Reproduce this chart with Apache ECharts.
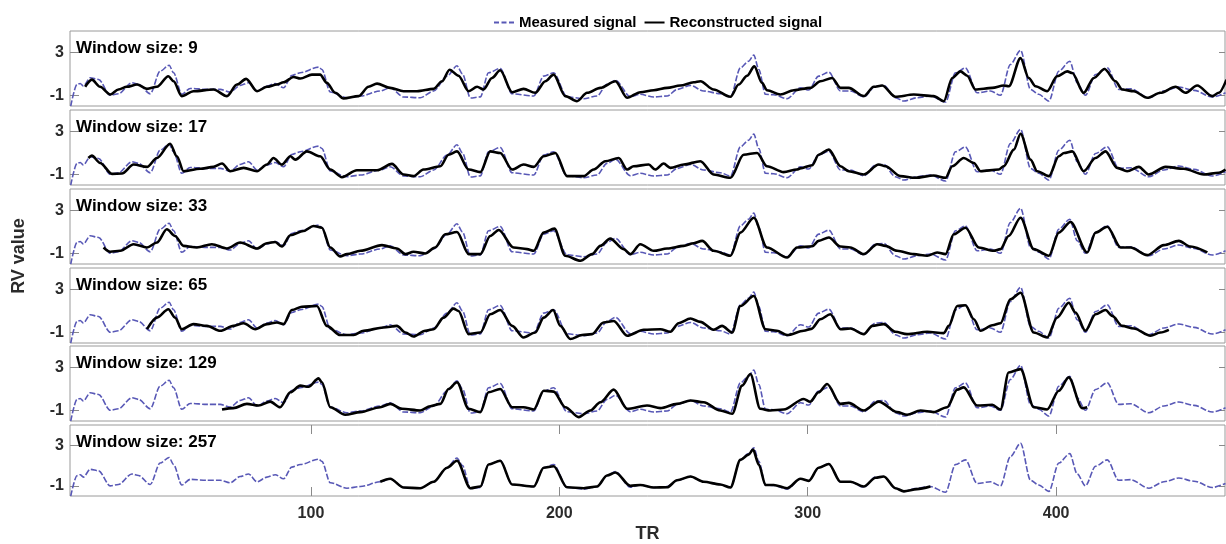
<!DOCTYPE html>
<html>
<head>
<meta charset="utf-8">
<title>RV signal reconstruction</title>
<script src="https://cdn.jsdelivr.net/npm/echarts@6/dist/echarts.min.js"></script>
<style>
  html, body { margin: 0; padding: 0; background: #fff; }
  #chart { width: 1226px; height: 544px; }
</style>
</head>
<body>
<div id="chart"></div>
<script>
// Window sizes of the sliding reconstruction, one panel each
const windowSizes = [9, 17, 33, 65, 129, 257];
const trTicks = [100, 200, 300, 400];
const rvTicks = [-1, 3];

// Measured RV signal, [TR, value]
const measured = [
  [3.3,-2.0],[5.8,0.0],[7.1,0.1],[8.4,-0.14],[11.1,0.63],[14.5,0.48],[19.2,-1.0],[22.5,-0.86],[27.9,0.17],[30.6,0.02],
  [35.3,-0.86],[39.3,1.25],[42.9,1.8],[44.7,1.1],[48.0,-0.91],[51.4,-0.36],[58.1,-0.45],[63.5,-0.45],[67.5,-0.7],[71.5,-0.08],
  [74.9,0.17],[78.3,-0.6],[82.3,-0.14],[85.6,0.1],[89.0,-0.3],[92.3,0.85],[95.7,1.1],[103.1,1.63],[104.4,1.41],[107.8,-0.7],
  [114.5,-1.23],[119.9,-1.07],[127.9,-0.6],[131.9,-0.3],[137.3,-1.16],[144,-1.23],[149.4,-0.6],[154.8,0.79],[158.8,1.75],[161,1.0],
  [164.2,-1.25],[168.2,-1.15],[171.5,1.1],[176.2,1.5],[181,-0.86],[189.7,-1.07],[193.7,0.79],[197.7,1.1],[203.1,-1.14],[209.8,-1.32],
  [215.2,-1.07],[219.2,0.02],[222.6,0.4],[228.6,-1.14],[232.6,-0.91],[238,-1.16],[243.4,-1.07],[247.4,-0.45],[252.8,-0.08],[258.1,-0.6],
  [264.8,-0.86],[268.9,-1.16],[272.9,1.56],[276.2,2.18],[278.3,2.75],[280.3,1.41],[283,-0.91],[286.3,-0.95],[291.7,-1.32],[297.1,-0.3],
  [300.4,-0.51],[304.4,0.79],[308.5,1.16],[313.2,-0.6],[317.2,-0.6],[322.6,-1.14],[327.3,-0.14],[330.6,-0.08],[335.3,-1.23],[338.7,-1.54],
  [344,-1.23],[349.4,-1.07],[355.5,-1.63],[359.5,1.1],[363.5,1.56],[368.2,-0.77],[373.6,-0.6],[377.6,-1.0],[381.6,1.88],[385.7,3.2],
  [389.7,-0.45],[393,-0.91],[397.1,-1.54],[401.1,1.25],[405.5,2.18],[408.5,0.17],[411.8,-1.0],[415.9,0.94],[420.6,1.56],[425.2,-0.45],
  [430,-0.39],[437.3,-1.23],[443.4,-0.6],[449.4,-0.23],[455.5,-0.54],[462.9,-1.16],[468.2,-0.77]
];

// Reconstructed signal for each window size, [TR, value]
const recon9 = [
  [9.1,-0.21],[11.8,0.46],[15.1,-0.21],[19.2,-0.93],[22.5,-0.46],[25.9,-0.21],[30,0.0],[34,-0.4],[38,-0.21],[42.6,0.77],
  [44.7,0.31],[48,-1.08],[52.7,-0.62],[60.8,-0.46],[66.2,-1.08],[70.2,0],[73.9,0.53],[78.3,-0.62],[82.3,-0.21],[86.3,0],
  [89,0.21],[93,0.71],[95.7,0.56],[100.4,0.93],[103.7,0.93],[106.4,0.16],[109.8,-0.77],[113.1,-1.3],[119.2,-1.08],[123.2,-0.21],
  [126.6,0.09],[131.9,-0.31],[137.3,-0.62],[142.7,-0.62],[149.4,-0.4],[152.8,0.31],[155.8,1.39],[159.4,0.83],[163.5,-0.62],[166.9,-0.21],
  [169.5,-0.46],[172.9,0.62],[176.2,1.33],[181,-0.71],[185.6,-0.4],[190.3,-0.77],[194.4,0.31],[197.7,0.93],[202.4,-1.08],[207.1,-1.55],
  [211.2,-0.77],[216.5,-0.31],[222.6,0.31],[227.3,-1.23],[232.6,-0.71],[238,-0.53],[243.4,-0.31],[248.7,-0.09],[254.1,0.21],[256.8,0.31],
  [262.1,-0.46],[268.9,-1.14],[272.2,0],[275.6,0.83],[278.5,1.7],[281.6,0.16],[283.6,-0.53],[289,-0.93],[294.4,-0.53],[301.1,-0.31],
  [305.1,0.31],[309.8,0.62],[313.2,-0.31],[316.5,-0.31],[322.6,-1.08],[326.6,-0.21],[330,-0.09],[335.3,-1.14],[342.7,-0.93],[350.7,-1.08],
  [354.8,-1.55],[358.2,0.62],[361.5,1.23],[364.2,0.83],[367.5,-0.46],[374.3,-0.31],[378.9,-0.09],[381,-0.15],[385.7,2.47],[389,0.62],
  [391.7,-0.15],[396.4,-0.62],[400.4,0.77],[404.5,1.23],[406.5,1.08],[411.1,-0.77],[415.2,0.62],[419.5,1.45],[423.9,0.31],[426.6,-0.46],
  [431.3,-0.62],[436.7,-1.23],[442,-0.77],[448.1,-0.21],[452.1,-0.77],[456.8,-0.09],[462.9,-1.08],[465.5,-0.77],[468.6,0.46]
];
const recon17 = [
  [10.4,0.52],[11.8,0.74],[15.1,0.06],[19.9,-0.96],[23.9,-0.93],[28.6,-0.09],[34,-0.31],[38,0.52],[43.3,1.85],[46,0.68],
  [48.7,-0.71],[55.4,-0.49],[60.8,-0.31],[64.2,0],[67.5,-0.71],[72.9,-0.4],[78.3,-0.71],[82.3,-0.09],[84.9,0.52],[88.3,-0.09],
  [91.7,0.68],[93.7,0.37],[98.4,1.14],[103.7,0.68],[107.8,-0.56],[112.5,-1.27],[118.5,-0.62],[126.6,-0.62],[132.6,-0.03],[137.3,-1.02],
  [141.3,-1.17],[145.3,-0.56],[152.1,-0.25],[155.4,0.83],[158.8,1.14],[163.5,-0.56],[168.2,-0.8],[172.2,1.14],[176.2,0.99],[181,-0.56],
  [185.6,-0.09],[189.7,-0.31],[193.7,0.68],[198.4,0.99],[203.1,-1.17],[209.8,-1.17],[213.8,-0.56],[218.5,0.22],[223.9,0.52],[227.3,-0.56],
  [229.9,-0.25],[236,-0.09],[238.6,-0.56],[242,0],[244.7,-0.4],[250.1,-0.09],[256.8,0.22],[262.1,-1.02],[268.9,-1.33],[274.2,0.83],
  [279.6,0.99],[283.6,-0.25],[290.3,-0.8],[295.7,-0.56],[297,-0.45],[301.8,-0.15],[304.4,0.83],[308.5,1.3],[313.2,-0.25],[316.5,-0.71],
  [322.6,-1.02],[328.6,-0.09],[331.3,-0.25],[337.3,-1.17],[343.4,-1.33],[350.7,-1.11],[355.5,-1.33],[358.2,-0.25],[362.8,0.52],[366.9,0.06],
  [369.6,-0.71],[376.9,-0.56],[378.9,-0.25],[383,1.3],[385.7,2.78],[389.7,0.37],[392.4,-0.71],[397.1,-1.17],[401.1,0.68],[403.2,0.99],
  [406.5,1.14],[411.1,-0.71],[415.9,0.52],[419.9,1.14],[424.6,-0.4],[428.6,-0.71],[433.3,-0.31],[437.3,-1.02],[444.1,-0.31],[451.4,-0.49],
  [459.5,-1.02],[465.5,-0.86],[468.2,-0.56]
];
const recon33 = [
  [16.5,-0.46],[19.2,-0.86],[23.2,-0.77],[28.6,-0.15],[34,-0.46],[38,0],[42,1.24],[45.3,0.62],[48.7,-0.31],[54.1,-0.46],
  [60.1,-0.15],[66.2,-0.55],[71.5,0],[78.3,-0.55],[82.3,-0.06],[85.6,0.06],[88.3,-0.37],[91.7,0.68],[97,1.08],[101,1.55],
  [104.4,1.39],[107.8,-0.46],[111.8,-1.29],[114.5,-1.08],[119.9,-0.77],[128.6,-0.24],[134.6,-0.55],[138,-1.08],[141.3,-0.86],[146,-1.02],
  [150,-0.46],[154.1,0.77],[158.8,0.99],[163.5,-1.08],[168.2,-1.08],[172.2,0.62],[175.6,1.18],[181.6,-0.46],[187,-0.61],[189.7,-0.77],
  [193.7,0.93],[198,1.3],[202.4,-1.23],[208.5,-1.69],[213.2,-1.08],[216.5,-0.31],[220.5,0.37],[225.9,-0.61],[228.6,-1.08],[232.6,-0.15],
  [238,-0.77],[243.4,-0.55],[250.1,-0.31],[254.1,-0.06],[257.5,0.16],[262.1,-0.77],[268.9,-1.23],[272.9,0.93],[278.3,2.32],[283.6,-0.46],
  [291.7,-1.39],[295.7,-0.46],[301.8,-0.35],[304.4,0.16],[308.5,0.47],[313.2,-0.37],[317.2,-0.46],[322.6,-1.08],[328,-0.15],[331.3,-0.31],
  [336,-0.77],[342.7,-1.08],[348.1,-1.23],[352.1,-0.92],[355.5,-1.08],[358.8,0.77],[363.5,1.39],[368.9,-0.46],[374.9,-0.77],[377.6,-0.61],
  [380.9,0.62],[385.7,2.32],[391,-0.61],[397.1,-1.23],[401.1,0.93],[405.8,1.92],[412.5,-0.92],[415.9,0.93],[420.6,1.48],[426,-0.46],
  [430,-0.46],[436.7,-1.17],[443.4,-0.24],[449.4,0.16],[454.1,-0.37],[460.9,-0.92]
];
const recon65 = [
  [34,-0.71],[38,0.37],[42.6,1.15],[45.3,0.37],[48,-0.71],[52.7,-0.24],[58.1,-0.4],[63.5,-0.86],[68.8,-0.4],[72.9,-0.15],
  [77.6,-0.71],[82.3,-0.24],[86.3,-0.09],[89,-0.24],[92.3,1.08],[96.4,1.39],[102.4,1.45],[106.4,-0.4],[111.8,-1.26],[117.2,-1.26],
  [121.2,-0.86],[129.2,-0.55],[134.6,-0.4],[138,-1.02],[141.3,-1.39],[146,-0.86],[149.4,-0.71],[153.4,0.37],[157.4,1.21],[159.4,0.99],
  [163.5,-1.17],[168.2,-1.02],[172.2,0.68],[176.2,1.08],[181,-0.4],[185.6,-1.48],[190.3,-1.02],[193.7,0.37],[197.5,1.08],[200.4,-0.4],
  [204.4,-1.63],[209.1,-1.26],[213.2,-1.17],[217.8,-0.09],[221.9,0.06],[227.3,-1.32],[234,-0.77],[240.7,-0.71],[244.7,-0.95],[248,-0.15],
  [252.8,0.28],[256.8,-0.03],[262.1,-0.77],[265.5,-0.4],[269.6,-1.02],[272.9,1.45],[278.3,2.38],[283,-0.71],[287.6,-0.86],[291.7,-1.26],
  [298.4,-0.86],[301.5,-0.68],[305.1,0.22],[309.1,0.68],[313.2,-0.71],[317.2,-0.65],[322.6,-1.17],[326,-0.4],[330.6,-0.24],[335.3,-0.95],
  [340,-1.17],[348.1,-0.95],[354.8,-1.08],[356.8,-0.4],[360.2,1.45],[363.5,1.52],[366.9,0.22],[369.6,-0.86],[374.3,-0.34],[377.6,-0.15],
  [381.6,2.07],[385.7,2.69],[391,-1.02],[396.4,-1.48],[400.4,0.37],[405.1,1.76],[407.8,0.84],[411.8,-0.86],[415.9,0.68],[419.9,1.08],
  [422.6,0.53],[426.6,-0.4],[431.3,-0.65],[438,-1.32],[442,-1.02],[445.4,-0.77]
];
const recon129 = [
  [64.2,-0.93],[68.8,-0.8],[74.2,-0.4],[78.9,-0.56],[83.6,-0.19],[87.6,-0.71],[91.7,0.68],[95.7,1.3],[99,1.2],[103.1,1.98],
  [104.4,1.61],[107.8,-0.71],[113.8,-1.42],[119.9,-1.17],[127.9,-0.71],[131.9,-0.4],[136.7,-0.86],[144,-1.02],[148,-0.62],[152.1,-0.4],
  [155.4,0.99],[158.8,1.61],[163.5,-0.86],[168.2,-1.17],[171.5,0.68],[176.2,0.99],[181,-0.71],[185.6,-0.71],[189.7,-0.93],[193.7,0.83],
  [197.7,0.74],[202.4,-0.71],[207.8,-1.64],[212.5,-1.02],[216.5,-0.25],[221.9,0.93],[227.3,-0.86],[235.3,-0.56],[240.7,-0.8],[247.4,-0.4],
  [252.8,-0.09],[258.1,-0.25],[264.8,-1.02],[269.6,-1.33],[273.6,1.3],[276.9,2.38],[280.9,-0.86],[284.9,-1.02],[290.3,-0.93],[298.4,0.06],
  [301,-0.2],[304.4,0.68],[307.8,1.45],[313.2,-0.4],[316.5,-0.31],[322.6,-1.02],[328.6,-0.19],[336,-1.17],[340,-1.42],[345.4,-1.02],
  [350.7,-1.17],[356.1,-0.71],[360.2,0.93],[362.8,1.14],[368.2,-0.56],[374.3,-0.49],[377.6,-0.93],[380.9,2.53],[385.7,2.84],[391,-0.71],
  [396.4,-0.93],[401.1,0.83],[405.1,2.07],[410.5,-0.8],[412.5,-0.71]
];
const recon257 = [
  [127.9,-0.6],[131.9,-0.3],[137.3,-1.16],[144,-1.23],[149.4,-0.6],[154.8,0.79],[158.8,1.47],[164.2,-1.23],[168.2,-1.07],[171.5,1.1],
  [176.2,1.47],[181,-0.86],[189.7,-1.07],[193.7,0.79],[197.7,0.94],[203.1,-1.14],[209.8,-1.23],[215.2,-1.07],[219.2,0.02],[222.6,0.32],
  [228.6,-1.0],[232.6,-0.91],[238,-1.16],[243.4,-1.14],[247.4,-0.45],[252.8,-0.08],[258.1,-0.6],[264.8,-0.86],[268.9,-1.16],[272.9,1.56],
  [276.2,2.08],[278,2.57],[280.3,1.1],[283,-0.91],[286.3,-0.91],[291.7,-1.23],[297.1,-0.3],[300.4,-0.51],[304.4,0.79],[308.5,1.16],
  [313.2,-0.6],[317.2,-0.6],[322.6,-1.07],[327.3,-0.2],[330.6,-0.08],[335.3,-1.23],[338.7,-1.54],[344,-1.32],[349.4,-1.07]
];
const reconstructed = [recon9, recon17, recon33, recon65, recon129, recon257];

const FONT = 'Arial, "Liberation Sans", Helvetica, sans-serif';
const BLUE = '#5858b6';
const TICK = '#8a8a8a';
const panelTops = [31, 110, 189, 268, 346, 425];
const panelHeight = 75;
const last = windowSizes.length - 1;

const grids = [], xAxes = [], yAxes = [], series = [], graphics = [];

const noLine = { show: false, onZero: false };

windowSizes.forEach((w, i) => {
  grids.push({
    left: 70, right: 1, top: panelTops[i], height: panelHeight,
    show: true, borderColor: '#9a9a9a', borderWidth: 1, backgroundColor: '#fff'
  });
  xAxes.push({
    type: 'value', gridIndex: i, min: 3, max: 468, position: 'bottom',
    axisLine: noLine, splitLine: { show: false },
    axisTick: { show: i === last, inside: true, length: 9, customValues: trTicks, lineStyle: { color: TICK } },
    axisLabel: {
      show: i === last, customValues: trTicks, margin: 10,
      fontFamily: FONT, fontWeight: 'bold', fontSize: 16, color: '#2b2b2b'
    },
    name: i === last ? 'TR' : '', nameLocation: 'middle', nameGap: 29,
    nameTextStyle: { fontFamily: FONT, fontWeight: 'bold', fontSize: 18, color: '#2b2b2b' }
  });
  yAxes.push({
    type: 'value', gridIndex: i, min: -2, max: 5, position: 'left',
    axisLine: noLine, splitLine: { show: false },
    axisTick: { show: true, inside: true, length: 9, customValues: rvTicks, lineStyle: { color: TICK } },
    axisLabel: {
      customValues: rvTicks, margin: 6,
      fontFamily: FONT, fontWeight: 'bold', fontSize: 16, color: '#2b2b2b'
    }
  });
  series.push({
    type: 'line', name: 'Measured signal', xAxisIndex: i, yAxisIndex: i,
    data: measured, symbol: 'none', showSymbol: false, silent: true, z: 2,
    smooth: 0.3, smoothMonotone: 'x',
    lineStyle: { color: BLUE, width: 1.6, type: [6, 2] }, itemStyle: { color: BLUE }
  });
  series.push({
    type: 'line', name: 'Reconstructed signal', xAxisIndex: i, yAxisIndex: i,
    data: reconstructed[i], symbol: 'none', showSymbol: false, silent: true, z: 3,
    smooth: 0.3, smoothMonotone: 'x',
    lineStyle: { color: '#000', width: 2.6 }, itemStyle: { color: '#000' }
  });
  graphics.push({
    type: 'text', left: 76, top: panelTops[i] + 9, z: 10,
    style: { text: 'Window size: ' + w, font: 'bold 17px ' + FONT, fill: '#000' }
  });
});

// mirrored ticks on the right edge of each panel
windowSizes.forEach((w, i) => {
  yAxes.push({
    type: 'value', gridIndex: i, min: -2, max: 5, position: 'right',
    axisLine: noLine, splitLine: { show: false }, axisLabel: { show: false },
    axisTick: { show: true, inside: true, length: 6, customValues: rvTicks, lineStyle: { color: TICK } }
  });
});
// mirrored TR ticks on top of the bottom panel
xAxes.push({
  type: 'value', gridIndex: last, min: 3, max: 468, position: 'top',
  axisLine: noLine, splitLine: { show: false }, axisLabel: { show: false },
  axisTick: { show: true, inside: true, length: 9, customValues: trTicks, lineStyle: { color: TICK } }
});

graphics.push({
  type: 'text', x: 19, y: 256, rotation: Math.PI / 2, z: 10,
  style: { text: 'RV value', font: 'bold 18px ' + FONT, fill: '#2b2b2b', align: 'center', verticalAlign: 'middle' }
});

const chart = echarts.init(document.getElementById('chart'), null, { renderer: 'canvas' });
chart.setOption({
  animation: false,
  backgroundColor: '#fff',
  legend: {
    left: 489, top: 10, itemWidth: 20, itemHeight: 3, itemGap: 8,
    data: [
      { name: 'Measured signal', icon: 'path://M0,0h5v2h-5zM7.5,0h5v2h-5zM15,0h5v2h-5z' },
      { name: 'Reconstructed signal', icon: 'path://M0,0h20v2h-20z' }
    ],
    textStyle: { fontFamily: FONT, fontWeight: 'bold', fontSize: 15, color: '#000' }
  },
  grid: grids,
  xAxis: xAxes,
  yAxis: yAxes,
  series: series,
  graphic: graphics
});
</script>
</body>
</html>
